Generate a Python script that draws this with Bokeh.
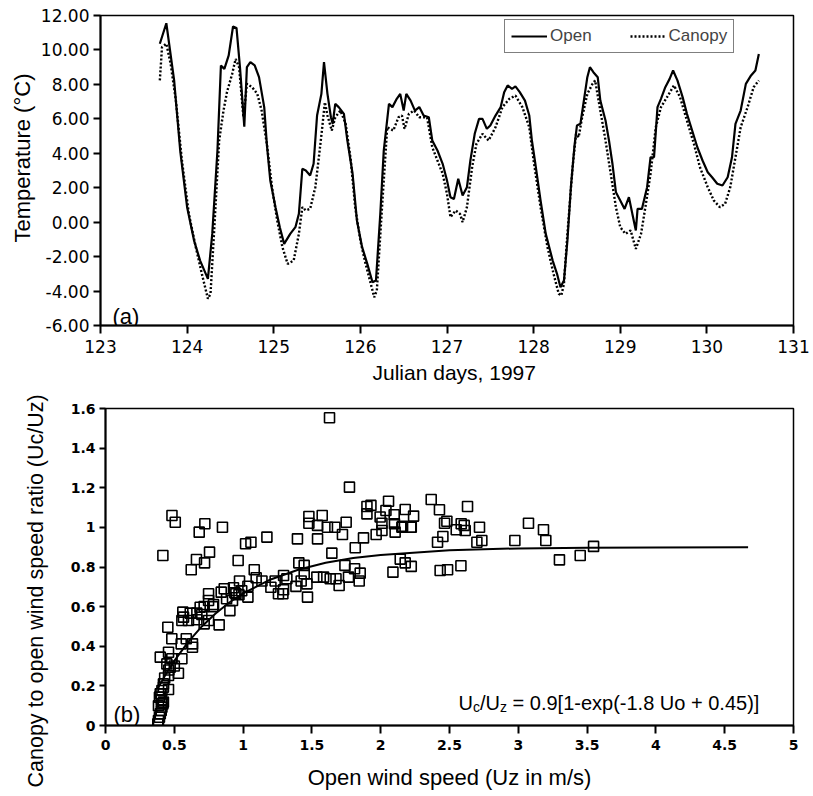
import math
from bokeh.plotting import figure
from bokeh.layouts import column
from bokeh.models import (Range1d, FixedTicker, NumeralTickFormatter, CustomJSTickFormatter,
                          Label, Legend, LegendItem, Title)
from bokeh.embed import file_html
from bokeh.resources import INLINE

# ---------------- data: panel (a) ----------------
open_day = [123.685, 123.76, 123.85, 123.92, 124.00, 124.08, 124.15, 124.24, 124.29, 124.35,
            124.39, 124.43, 124.48, 124.53, 124.57, 124.61, 124.66, 124.69, 124.73, 124.78,
            124.83, 124.89, 124.92, 124.96, 125.02, 125.07, 125.12, 125.19, 125.25, 125.29,
            125.33, 125.37, 125.42, 125.46, 125.50, 125.55, 125.58, 125.62, 125.66, 125.68,
            125.71, 125.75, 125.81, 125.85, 125.91, 125.96, 126.02, 126.08, 126.14, 126.18,
            126.23, 126.27, 126.33, 126.37, 126.42, 126.46, 126.50, 126.53, 126.58, 126.63,
            126.68, 126.73, 126.79, 126.83, 126.89, 126.95, 127.00, 127.04, 127.08, 127.13,
            127.18, 127.23, 127.27, 127.32, 127.37, 127.41, 127.46, 127.50, 127.56, 127.62,
            127.66, 127.70, 127.75, 127.79, 127.84, 127.90, 127.95, 127.98, 128.02, 128.08,
            128.14, 128.22, 128.27, 128.31, 128.35, 128.39, 128.43, 128.47, 128.50, 128.54,
            128.58, 128.62, 128.65, 128.69, 128.74, 128.77, 128.80, 128.83, 128.87, 128.91,
            128.95, 129.00, 129.05, 129.10, 129.14, 129.18, 129.20, 129.25, 129.31, 129.35,
            129.39, 129.43, 129.47, 129.52, 129.57, 129.61, 129.66, 129.72, 129.77, 129.83,
            129.89, 129.95, 130.01, 130.06, 130.12, 130.18, 130.24, 130.29, 130.33, 130.39,
            130.45, 130.51, 130.56, 130.60]
open_temp = [10.36, 11.55, 8.23, 4.16, 0.87, -1.07, -2.23, -3.29, -0.68, 4.16,
             9.10, 8.90, 9.68, 11.36, 11.28, 9.00, 5.55, 9.00, 9.29, 9.10,
             8.42, 6.68, 4.55, 2.42, 0.87, -0.29, -1.26, -0.68, -0.29, 0.48,
             3.10, 3.00, 2.71, 3.39, 6.19, 7.45, 9.29, 7.45, 6.09, 5.71,
             6.87, 6.68, 6.29, 4.74, 2.81, 0.10, -1.45, -2.42, -3.49, -3.39,
             0.48, 4.16, 6.87, 6.68, 7.16, 7.45, 6.48, 7.45, 7.06, 6.48,
             6.68, 6.19, 6.09, 4.74, 4.16, 3.39, 2.42, 1.45, 1.35, 2.52,
             1.55, 2.03, 3.58, 5.13, 6.00, 6.00, 5.42, 5.61, 6.19, 6.68,
             7.55, 7.94, 7.74, 7.88, 7.55, 7.06, 6.19, 4.74, 3.39, 1.26,
             -0.68, -2.23, -3.00, -3.78, -3.39, -1.07, 2.03, 4.35, 5.61, 5.71,
             7.06, 8.42, 9.00, 8.71, 8.42, 7.06, 6.48, 5.90, 4.74, 3.39,
             1.74, 1.26, 0.77, 1.45, 0.48, -0.48, 0.77, 0.77, 2.03, 3.77,
             3.77, 6.68, 7.16, 7.84, 8.32, 8.81, 8.23, 7.26, 6.29, 5.32,
             4.35, 3.58, 2.90, 2.61, 2.23, 2.13, 2.61, 3.77, 5.71, 6.48,
             8.03, 8.52, 8.81, 9.77]

canopy_day = [123.685, 123.71, 123.76, 123.81, 123.87, 123.94, 124.02, 124.10, 124.17, 124.24,
              124.27, 124.31, 124.37, 124.42, 124.46, 124.52, 124.56, 124.60, 124.65, 124.69,
              124.75, 124.81, 124.86, 124.92, 124.98, 125.04, 125.10, 125.16, 125.23, 125.29,
              125.33, 125.37, 125.42, 125.48, 125.53, 125.56, 125.59, 125.62, 125.67, 125.71,
              125.77, 125.83, 125.89, 125.94, 126.00, 126.06, 126.12, 126.16, 126.19, 126.25,
              126.31, 126.38, 126.44, 126.48, 126.51, 126.56, 126.62, 126.68, 126.77, 126.83,
              126.89, 126.95, 127.00, 127.04, 127.10, 127.15, 127.18, 127.23, 127.29, 127.34,
              127.41, 127.48, 127.56, 127.64, 127.72, 127.79, 127.87, 127.95, 128.00, 128.08,
              128.16, 128.23, 128.29, 128.32, 128.35, 128.39, 128.45, 128.49, 128.52, 128.56,
              128.62, 128.68, 128.71, 128.77, 128.83, 128.89, 128.95, 129.00, 129.06, 129.12,
              129.18, 129.24, 129.29, 129.35, 129.41, 129.47, 129.54, 129.62, 129.69, 129.77,
              129.85, 129.92, 130.01, 130.08, 130.15, 130.21, 130.27, 130.33, 130.39, 130.47,
              130.54, 130.60]
canopy_temp = [8.23, 10.16, 10.36, 9.19, 7.06, 3.58, 0.48, -1.45, -3.00, -4.45,
               -4.16, -0.68, 4.74, 6.48, 7.55, 8.61, 9.48, 9.00, 6.09, 8.03,
               7.84, 7.45, 6.48, 4.55, 2.03, 0.10, -1.45, -2.42, -2.23, -0.68,
               0.87, 0.68, 0.77, 2.03, 4.16, 5.51, 6.97, 6.19, 5.32, 6.09,
               6.48, 5.71, 3.58, 0.87, -1.07, -2.42, -3.58, -4.36, -3.97, 0.87,
               5.51, 5.32, 6.09, 6.19, 5.42, 6.29, 6.48, 6.09, 6.09, 4.35,
               3.58, 2.81, 1.64, 0.29, 0.68, 0.48, 0.00, 0.87, 3.19, 4.55,
               5.13, 4.74, 5.51, 6.68, 7.16, 7.35, 6.68, 5.51, 3.58, 0.87,
               -1.45, -3.00, -4.16, -4.26, -3.58, -0.68, 3.19, 5.13, 4.93, 6.09,
               7.45, 8.03, 8.23, 6.48, 4.74, 2.81, 0.87, -0.29, -0.68, -0.48,
               -1.55, -0.68, 0.87, 2.81, 5.51, 6.68, 7.26, 7.94, 7.26, 5.90,
               4.55, 3.19, 2.03, 1.26, 0.87, 1.06, 2.03, 3.77, 5.51, 6.68,
               7.84, 8.23]

temp_ticks = [-6, -4, -2, 0, 2, 4, 6, 8, 10, 12]
day_ticks = [123, 124, 125, 126, 127, 128, 129, 130, 131]

# ---------------- data: panel (b) ----------------
wind_open = [1.628, 1.773, 0.483, 0.507, 0.417, 0.681, 0.722, 0.850, 0.661, 0.623,
             0.720, 0.756, 0.964, 1.018, 1.057, 1.173, 1.395, 1.478, 1.478, 1.575,
             1.541, 1.613, 1.667, 1.749, 1.722, 1.541, 1.645, 1.875, 1.815, 1.900,
             1.929, 1.900, 1.996, 2.057, 2.038, 2.098, 2.178, 2.239, 1.967, 2.009,
             2.009, 2.100, 2.105, 2.159, 2.222, 2.142, 2.178, 2.222, 2.089, 1.740,
             1.810, 1.851, 1.844, 1.766, 1.698, 1.675, 1.633, 1.585, 1.536, 1.444,
             1.444, 1.405, 1.464, 1.384, 1.468, 1.422, 1.294, 1.318, 1.294, 1.257,
             1.289, 1.202, 1.233, 1.137, 1.081, 1.095, 1.035, 1.035, 0.974, 0.930,
             0.948, 0.863, 0.841, 0.923, 0.904, 0.785, 0.749, 0.749, 0.717, 0.688,
             0.664, 0.717, 0.749, 0.664, 0.826, 0.616, 0.562, 0.567, 0.603, 0.555,
             0.453, 0.482, 0.587, 0.632, 0.632, 0.550, 0.458, 0.398, 0.482, 0.555,
             0.470, 0.530, 0.458, 0.446, 0.421, 0.458, 0.380, 0.385, 0.392, 0.398,
             0.405, 0.410, 0.417, 0.421, 0.392, 0.398, 0.410, 0.421, 0.385, 0.405,
             2.367, 2.427, 2.631, 2.154, 2.219, 2.464, 2.481, 2.585, 2.607, 2.549,
             2.614, 2.718, 2.452, 2.413, 2.699, 2.735, 2.975, 3.074, 3.183, 3.200,
             3.547, 3.450, 3.299, 2.432, 2.486, 2.583, 0.94, 0.97, 0.99, 0.88,
             0.78, 0.70, 0.46, 0.50, 0.43]
ratio = [1.553, 1.203, 1.060, 1.026, 0.858, 0.976, 1.018, 1.001, 0.838, 0.786,
         0.821, 0.875, 0.833, 0.917, 0.925, 0.951, 0.942, 1.055, 1.021, 1.060,
         1.010, 1.001, 1.001, 1.026, 0.964, 0.942, 0.870, 0.947, 0.897, 1.105,
         1.111, 1.068, 1.052, 1.132, 1.085, 1.064, 1.090, 1.057, 0.964, 0.984,
         1.021, 1.018, 0.976, 1.006, 1.001, 0.840, 0.821, 0.803, 0.774, 0.808,
         0.791, 0.769, 0.729, 0.749, 0.707, 0.741, 0.741, 0.749, 0.749, 0.766,
         0.808, 0.821, 0.715, 0.702, 0.648, 0.729, 0.757, 0.741, 0.685, 0.665,
         0.665, 0.698, 0.729, 0.729, 0.786, 0.746, 0.703, 0.648, 0.729, 0.695,
         0.665, 0.690, 0.673, 0.631, 0.580, 0.611, 0.665, 0.631, 0.601, 0.597,
         0.567, 0.513, 0.530, 0.534, 0.508, 0.567, 0.572, 0.547, 0.530, 0.530,
         0.496, 0.438, 0.438, 0.412, 0.395, 0.412, 0.370, 0.345, 0.337, 0.337,
         0.294, 0.264, 0.252, 0.311, 0.210, 0.182, 0.008, 0.025, 0.042, 0.059,
         0.076, 0.092, 0.109, 0.118, 0.143, 0.160, 0.177, 0.193, 0.100, 0.130,
         1.141, 1.089, 1.105, 1.001, 1.001, 1.021, 1.031, 1.018, 1.010, 0.988,
         0.984, 1.001, 0.954, 0.925, 0.925, 0.934, 0.934, 1.021, 0.988, 0.934,
         0.904, 0.858, 0.836, 0.782, 0.786, 0.806, 0.67, 0.66, 0.68, 0.64,
         0.60, 0.56, 0.28, 0.30, 0.24]

fit_u = [0.38, 0.45, 0.5, 0.6, 0.7, 0.8, 0.9, 1.0, 1.2, 1.4, 1.6, 1.8, 2.0, 2.5, 3.0, 3.5, 4.0, 4.67]
fit_r = [0.188, 0.272, 0.326, 0.421, 0.500, 0.565, 0.621, 0.667, 0.737, 0.786, 0.821, 0.845,
         0.861, 0.884, 0.894, 0.897, 0.899, 0.900]

wind_ticks = [0, 0.5, 1, 1.5, 2, 2.5, 3, 3.5, 4, 4.5, 5]
ratio_ticks = [0, 0.2, 0.4, 0.6, 0.8, 1, 1.2, 1.4, 1.6]

ARIAL = "Liberation Sans"
DEJ = "DejaVu Sans"


def style_axes(p, tick_font, tick_size, tick_style, tout_x, tout_y, sx, sy):
    p.xgrid.visible = False
    p.ygrid.visible = False
    p.outline_line_color = "black"
    p.outline_line_width = 1.5
    p.background_fill_color = "white"
    p.border_fill_color = "white"
    if "frame_align" in p.properties():
        p.frame_align = False
    for ax, tout, st in ((p.xaxis[0], tout_x, sx), (p.yaxis[0], tout_y, sy)):
        ax.axis_line_width = 2
        ax.axis_line_color = "black"
        ax.major_tick_line_width = 2
        ax.major_tick_line_color = "black"
        ax.major_tick_out = tout
        ax.major_tick_in = 0
        ax.minor_tick_line_color = None
        ax.minor_tick_out = 0
        ax.major_label_text_font = tick_font
        ax.major_label_text_font_size = tick_size
        ax.major_label_text_font_style = tick_style
        ax.major_label_text_color = "black"
        ax.major_label_standoff = st
        ax.axis_label_text_font = ARIAL
        ax.axis_label_text_font_style = "normal"
        ax.axis_label_text_color = "black"


def lab(p, x, y, text, size, align="left"):
    p.add_layout(Label(x=x, y=y, x_units="screen", y_units="screen", text=text,
                       text_font=ARIAL, text_font_size=size, text_color="black",
                       text_align=align, text_baseline="alphabetic"))


def side_title(p, text, size, place, offset, standoff, valign="bottom"):
    p.add_layout(Title(text=text, text_font=ARIAL, text_font_size=size,
                       text_font_style="normal", text_color="black", align="left",
                       vertical_align=valign, offset=offset, standoff=standoff), place)


# ---------------- panel (a) ----------------
p1 = figure(width=813, height=388, x_range=Range1d(123, 131), y_range=Range1d(-6, 12),
            output_backend="svg", toolbar_location=None,
            min_border_left=100, min_border_right=20, min_border_top=15, min_border_bottom=63)
style_axes(p1, DEJ, "17px", "normal", 8, 7, 6, 4)
p1.xaxis[0].ticker = FixedTicker(ticks=day_ticks)
p1.yaxis[0].ticker = FixedTicker(ticks=temp_ticks)
p1.yaxis[0].formatter = NumeralTickFormatter(format="0.00")

r_open = p1.line(open_day, open_temp, line_color="black", line_width=2.2)
r_can = p1.line(canopy_day, canopy_temp, line_color="black", line_width=2.4, line_dash="2 2")

leg = Legend(items=[LegendItem(label="Open", renderers=[r_open]),
                    LegendItem(label="Canopy", renderers=[r_can])],
             orientation="horizontal", location=(404, 272),
             label_text_font=ARIAL, label_text_font_size="17px",
             glyph_width=36, glyph_height=20, label_standoff=3, spacing=38,
             padding=6, margin=0, border_line_color="black", border_line_width=1.5,
             background_fill_alpha=1.0, label_height=20)
p1.add_layout(leg, "center")

lab(p1, 12, 9, "(a)", "22px")
side_title(p1, "Julian days, 1997", "21px", "below", 272, 6)
side_title(p1, "Temperature (°C)", "22px", "left", 83, 5)

# ---------------- panel (b) ----------------
p2 = figure(width=813, height=408, x_range=Range1d(0, 5), y_range=Range1d(0, 1.6),
            output_backend="svg", toolbar_location=None,
            min_border_left=105, min_border_right=20, min_border_top=20, min_border_bottom=71)
style_axes(p2, DEJ, "14px", "bold", 8, 6, 6, 4)
p2.xaxis[0].ticker = FixedTicker(ticks=wind_ticks)
p2.yaxis[0].ticker = FixedTicker(ticks=ratio_ticks)
p2.xaxis[0].formatter = CustomJSTickFormatter(code="return tick.toString();")
p2.yaxis[0].formatter = CustomJSTickFormatter(code="return tick.toString();")
p2.xaxis[0].axis_label = "Open wind speed (Uz in m/s)"
p2.xaxis[0].axis_label_text_font_size = "22px"
p2.xaxis[0].axis_label_standoff = 12

p2.scatter(wind_open, ratio, marker="square", size=10, fill_color=None,
           line_color="black", line_width=1.6)
p2.line(fit_u, fit_r, line_color="black", line_width=2)

lab(p2, 8, 11, "(b)", "22px")

# equation with subscripts (inside the frame)
eq_x, eq_y = 353, 23
lab(p2, eq_x, eq_y, "U", "20px")
j1 = eq_x + 0.722 * 20
lab(p2, j1, eq_y - 4, "c", "14px")
j2 = j1 + 7.0
lab(p2, j2, eq_y, "/U", "20px")
j3 = j2 + 1.0 * 20
lab(p2, j3, eq_y - 4, "z", "14px")
lab(p2, j3 + 7.0 + 5.6, eq_y, "= 0.9[1-exp(-1.8 Uo + 0.45)]", "20px")

side_title(p2, "Canopy to open wind speed ratio (Uc/Uz)", "21.5px", "left", -62, 35, valign="top")

layout = column(p1, p2, spacing=0)
open("out.html", "w").write(file_html(layout, INLINE))
